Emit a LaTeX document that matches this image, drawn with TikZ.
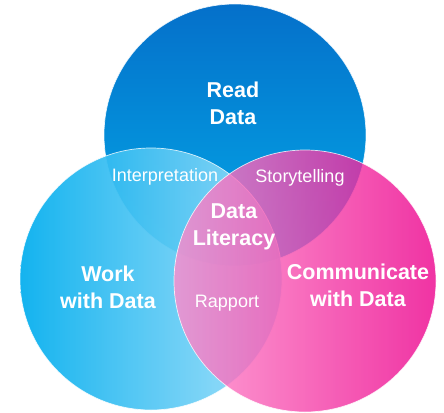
\documentclass[tikz,border=0pt]{standalone}
\usepackage{fontspec}
\setmainfont{Liberation Sans}
\definecolor{readTop}{HTML}{0570CA}
\definecolor{readBot}{HTML}{03AAE8}
\definecolor{workL}{HTML}{00ADEE}
\definecolor{workR}{HTML}{A2DFF9}
\definecolor{commL}{HTML}{FF8CCB}
\definecolor{commR}{HTML}{EC008C}
\tikzset{
  venn/.style={draw=white, draw opacity=0.8, line width=0.7pt, circle, minimum size=262pt, inner sep=0pt},
  big/.style={text=white, font=\bfseries\fontsize{21.5}{27}\selectfont, align=center},
  small/.style={text=white, font=\fontsize{18}{21}\selectfont}
}

\begin{document}
\begin{tikzpicture}[x=1pt, y=-1pt]
\useasboundingbox (0,0) rectangle (444,412);
\node[venn, top color=readTop, bottom color=readBot] (readC) at (235,135) {};
\node[venn, left color=workL, right color=workR, fill opacity=0.92] (workC) at (151,279) {};
\node[venn, left color=commL, right color=commR, fill opacity=0.8] (commC) at (305,281) {};
\node[big] (read) at (233,103) {Read\\Data};
\node[big] (work) at (108,287) {Work\\with Data};
\node[big] (comm) at (358,285) {Communicate\\with Data};
\node[big] (lit) at (234,227) {Data\\Literacy};
\node[small] (interp) at (165,177) {Interpretation};
\node[small] (story) at (300,178) {Storytelling};
\node[small] (rapport) at (227,303) {Rapport};
\end{tikzpicture}
\end{document}
